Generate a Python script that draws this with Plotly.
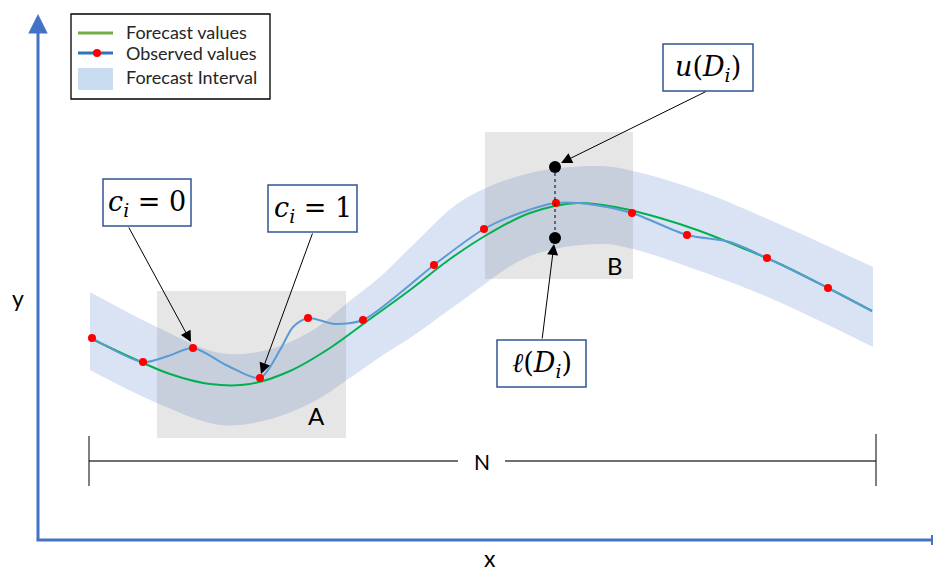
import plotly.graph_objects as go

# ---------------- data (pixel-like units, y grows downward) -------------
band_x = [90, 157, 220, 267, 313, 347, 380, 413, 463, 530, 600, 633, 700, 770, 873]
band_upper = [292, 327, 353, 350, 330, 303, 277, 245, 200, 173, 166, 171, 191, 220, 267]
band_lower = [370, 403, 425, 420, 402, 380, 357, 336, 300, 256, 244, 249, 271, 298, 347]

forecast_x = [92, 130, 170, 210, 250, 290, 330, 370, 410, 450, 490, 530, 577, 620, 660, 700, 740, 780, 828, 872]
forecast_y = [339, 357, 374, 384, 384, 371, 348, 319, 290, 259, 233, 213, 203, 208, 218, 231, 247, 264, 288, 311]

observed_curve_x = [92, 143, 168, 193, 228, 260, 280, 293, 308, 335, 363, 400, 434, 484, 520, 556, 595, 632, 687, 730, 767, 828, 872]
observed_curve_y = [338, 362, 356, 348, 366, 378, 350, 327, 318, 324, 320, 293, 265, 229, 213, 203, 205, 213, 235, 242, 258, 288, 311]

observed_x = [92, 143, 193, 260, 308, 363, 434, 484, 556, 632, 687, 767, 828]
observed_y = [338, 362, 348, 378, 318, 320, 265, 229, 203, 213, 235, 258, 288]

bound_x = [555, 555]
bound_y = [167, 238]           # u(D_i), l(D_i)

region_names = ["A", "B"]
region_x0 = [157, 485]
region_x1 = [346, 633]
region_y0 = [291, 132]
region_y1 = [438, 279]

legend_labels = ["Forecast values", "Observed values", "Forecast Interval"]

# ---------------- styles -------------
AXIS_BLUE = "#4472C4"
BOX_BLUE = "#2F5597"
BAND = "rgb(218,227,243)"
GREEN = "#00B050"
BLUE = "#5B9BD5"
RED = "#FF0000"

fig = go.Figure()

# forecast interval band
fig.add_trace(go.Scatter(x=band_x, y=band_lower, mode="lines", line=dict(width=0, shape="spline"),
                         hoverinfo="skip"))
fig.add_trace(go.Scatter(x=band_x, y=band_upper, mode="lines", line=dict(width=0, shape="spline"),
                         fill="tonexty", fillcolor=BAND, hoverinfo="skip"))

# gray regions A and B
for i in range(len(region_names)):
    fig.add_trace(go.Scatter(
        x=[region_x0[i], region_x1[i], region_x1[i], region_x0[i], region_x0[i]],
        y=[region_y0[i], region_y0[i], region_y1[i], region_y1[i], region_y0[i]],
        mode="lines", line=dict(width=0), fill="toself",
        fillcolor="rgba(128,128,128,0.2)", hoverinfo="skip"))

# forecast and observed lines
fig.add_trace(go.Scatter(x=forecast_x, y=forecast_y, mode="lines",
                         line=dict(color=GREEN, width=2, shape="spline", smoothing=1.0)))
fig.add_trace(go.Scatter(x=observed_curve_x, y=observed_curve_y, mode="lines",
                         line=dict(color=BLUE, width=2, shape="spline", smoothing=0.8)))
fig.add_trace(go.Scatter(x=observed_x, y=observed_y, mode="markers",
                         marker=dict(color=RED, size=8)))

# interval bounds at D_i
fig.add_trace(go.Scatter(x=bound_x, y=bound_y, mode="lines",
                         line=dict(color="black", width=1, dash="dot")))
fig.add_trace(go.Scatter(x=bound_x, y=bound_y, mode="markers",
                         marker=dict(color="black", size=12)))

shapes = []
annotations = []

# axes with arrows
annotations.append(dict(x=38, y=14, ax=38, ay=541, xref="x", yref="y", axref="x", ayref="y",
                        text="", showarrow=True, arrowhead=2, arrowsize=1.3, arrowwidth=3,
                        arrowcolor=AXIS_BLUE, standoff=0))
shapes += [
    dict(type="line", x0=36.5, x1=933, y0=540, y1=540, line=dict(color=AXIS_BLUE, width=3)),
    dict(type="line", x0=932, x1=932, y0=535, y1=545, line=dict(color=AXIS_BLUE, width=2)),
]
annotations.append(dict(x=18, y=298, xref="x", yref="y", text="y", showarrow=False,
                        font=dict(family="Lato", size=23, color="black")))
annotations.append(dict(x=490, y=558, xref="x", yref="y", text="x", showarrow=False,
                        font=dict(family="Lato", size=23, color="black")))

# region labels
annotations.append(dict(x=316, y=415, xref="x", yref="y", text=region_names[0], showarrow=False,
                        font=dict(family="Lato", size=24, color="black")))
annotations.append(dict(x=615, y=265, xref="x", yref="y", text=region_names[1], showarrow=False,
                        font=dict(family="Lato", size=24, color="black")))

# N span
shapes += [
    dict(type="line", x0=89, x1=458, y0=461, y1=461, line=dict(color="#404040", width=1.3)),
    dict(type="line", x0=505, x1=876, y0=461, y1=461, line=dict(color="#404040", width=1.3)),
    dict(type="line", x0=89, x1=89, y0=436, y1=486, line=dict(color="black", width=1)),
    dict(type="line", x0=876, x1=876, y0=434, y1=486, line=dict(color="black", width=1)),
]
annotations.append(dict(x=482, y=461, xref="x", yref="y", text="N", showarrow=False,
                        font=dict(family="Lato", size=21, color="black")))

# callout boxes
callouts = [
    # (x0, y0, x1, y1, text, tail_x, tail_y, head_x, head_y)
    (103, 179, 191, 226, "<i>c<sub>i</sub></i> = 0", 128, 226, 191, 342),
    (268, 185, 357, 232, "<i>c<sub>i</sub></i> = 1", 313, 232, 261, 374),
    (663, 44, 753, 91, "<i>u</i>(<i>D<sub>i</sub></i>)", 707, 91, 561, 163),
    (497, 340, 586, 387, "<i>ℓ</i>(<i>D<sub>i</sub></i>)", 542, 340, 554, 244),
]
for (x0, y0, x1, y1, txt, tx, ty, hx, hy) in callouts:
    shapes.append(dict(type="rect", x0=x0, x1=x1, y0=y0, y1=y1, fillcolor="white",
                       line=dict(color=BOX_BLUE, width=1.5), layer="above"))
    annotations.append(dict(x=(x0 + x1) / 2, y=(y0 + y1) / 2 + 1, xref="x", yref="y", text=txt,
                            showarrow=False,
                            font=dict(family="DejaVu Serif", size=27, color="black")))
    annotations.append(dict(x=hx, y=hy, ax=tx, ay=ty, xref="x", yref="y", axref="x", ayref="y",
                            text="", showarrow=True, arrowhead=2, arrowsize=2.2, arrowwidth=1,
                            arrowcolor="black", standoff=0))

# legend (drawn by hand)
shapes += [
    dict(type="rect", x0=71, x1=270, y0=14, y1=99, line=dict(color="black", width=1.3),
         fillcolor="white", layer="above"),
    dict(type="line", x0=78, x1=113, y0=33, y1=33, line=dict(color="#70AD47", width=3), layer="above"),
    dict(type="line", x0=78, x1=113, y0=53, y1=53, line=dict(color="#2E75B6", width=3), layer="above"),
    dict(type="circle", x0=93, x1=101, y0=49, y1=57, fillcolor=RED, line=dict(width=0), layer="above"),
    dict(type="rect", x0=78, x1=113, y0=68, y1=90, fillcolor="#C9DCF0", line=dict(width=0), layer="above"),
]
for lbl, yy in zip(legend_labels, [32, 53, 77]):
    annotations.append(dict(x=124, y=yy, xref="x", yref="y", text=lbl, showarrow=False,
                            xanchor="left", font=dict(family="Lato", size=18, color="#262626")))

fig.update_layout(
    width=933, height=572,
    margin=dict(l=0, r=0, t=0, b=0),
    paper_bgcolor="white", plot_bgcolor="white",
    showlegend=False,
    xaxis=dict(range=[0, 933], visible=False, fixedrange=True),
    yaxis=dict(range=[572, 0], visible=False, fixedrange=True),
    shapes=shapes, annotations=annotations,
)

fig.write_html("out.html", config={"displayModeBar": False},
               post_script="document.body.style.margin='0';document.body.style.overflow='hidden';")
